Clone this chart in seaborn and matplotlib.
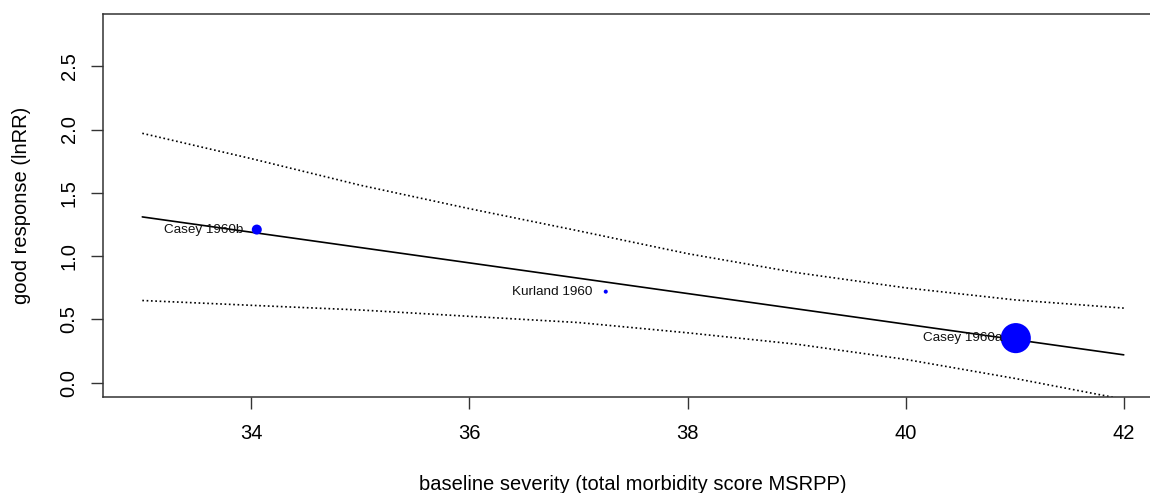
import matplotlib
matplotlib.use("Agg")
import matplotlib.pyplot as plt
import seaborn as sns
import pandas as pd

# Studies in the meta-regression
studies = ["Casey 1960b", "Kurland 1960", "Casey 1960a"]
severity = [34.05, 37.25, 41.01]
ln_rr = [1.21, 0.72, 0.353]
marker_area = [52, 8.5, 470]   # marker area (pt^2), proportional to study weight

# Fitted regression line and 95% confidence bounds
grid_x = [33, 34, 35, 36, 37, 38, 39, 40, 41, 42]
fit_y = [1.31, 1.189, 1.068, 0.947, 0.826, 0.705, 0.584, 0.463, 0.342, 0.221]
ci_upper = [1.97, 1.77, 1.56, 1.375, 1.20, 1.02, 0.87, 0.75, 0.655, 0.59]
ci_lower = [0.65, 0.612, 0.575, 0.525, 0.476, 0.395, 0.305, 0.185, 0.035, -0.13]

x_ticks = [34, 36, 38, 40, 42]
y_ticks = [0.0, 0.5, 1.0, 1.5, 2.0, 2.5]

sns.set_theme(style="white")
plt.rcParams["font.family"] = ["Liberation Sans", "DejaVu Sans"]

fig = plt.figure(figsize=(11.5, 4.93), dpi=100)
ax = fig.add_axes([0.0896, 0.1947, 1.0113 - 0.0896, 0.9716 - 0.1947])

fit = pd.DataFrame({"x": grid_x, "fit": fit_y, "ub": ci_upper, "lb": ci_lower})
pts = pd.DataFrame({"study": studies, "x": severity, "y": ln_rr})

sns.lineplot(data=fit, x="x", y="fit", ax=ax, color="black", lw=1.2)
for col in ("ub", "lb"):
    sns.lineplot(data=fit, x="x", y=col, ax=ax, color="black", lw=1.2,
                 linestyle=(0, (1, 1.6)))

sns.scatterplot(data=pts, x="x", y="y", ax=ax, s=marker_area, color="#0000FF",
                linewidth=0, zorder=3)

for name, xv, yv in zip(studies, severity, ln_rr):
    ax.annotate(name, (xv, yv), xytext=(-9.5, 0), textcoords="offset points",
                ha="right", va="center", fontsize=9.7, color="#111111", zorder=4)

ax.set_xlim(32.64, 42.36)
ax.set_ylim(-0.112, 2.912)
ax.set_xticks(x_ticks)
ax.set_xticklabels([str(t) for t in x_ticks])
ax.set_yticks(y_ticks)
ax.set_yticklabels([f"{t:.1f}" for t in y_ticks], rotation=90, va="center")

ax.tick_params(axis="both", which="major", direction="out", length=8.5, width=1,
               color="#333333", labelsize=14.5, labelcolor="black", bottom=True, left=True)
ax.tick_params(axis="x", pad=11)
ax.tick_params(axis="y", pad=9)

for side in ("left", "bottom", "top", "right"):
    ax.spines[side].set_visible(True)
    ax.spines[side].set_color("#333333")
    ax.spines[side].set_linewidth(1.1)

ax.set_xlabel("baseline severity (total morbidity score MSRPP)", fontsize=14.5,
              color="black", labelpad=23)
ax.set_ylabel("good response (lnRR)", fontsize=14.5, color="black", labelpad=21)

fig.savefig("out.png", dpi=100)
